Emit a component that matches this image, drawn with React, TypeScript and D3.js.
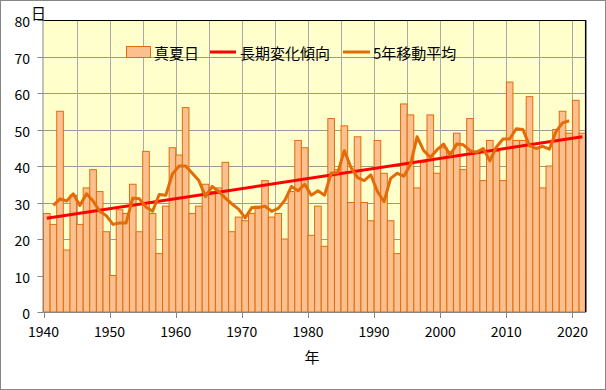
import React, { useEffect } from "react";
import * as d3 from "d3";

// 真夏日の日数 (1940年〜2021年)
const firstYear = 1940;
const manatsubi = [
  27, 24, 55, 17, 32, 24, 34, 39, 33, 22,
  10, 28, 27, 35, 22, 44, 27, 16, 29, 45,
  43, 56, 27, 29, 35, 33, 34, 41, 22, 26,
  25, 27, 29, 36, 26, 27, 20, 33, 47, 45,
  21, 29, 18, 53, 39, 51, 30, 48, 30, 25,
  47, 38, 25, 16, 57, 54, 34, 41, 54, 38,
  45, 44, 49, 39, 53, 44, 36, 47, 44, 36,
  63, 47, 47, 59, 45, 34, 40, 50, 55, 49,
  58, 49,
];

// 5年移動平均 (1941年〜2019年)
const maFirstYear = 1941;
const movingAvg = [
  29.2, 31.0, 30.4, 32.4, 29.2, 32.4, 30.4, 27.6, 26.4,
  24.0, 24.4, 24.4, 31.2, 31.0, 28.8, 27.6, 32.2, 32.0, 37.8,
  40.0, 40.0, 38.0, 36.0, 31.6, 34.4, 33.0, 31.2, 29.6, 28.2,
  25.8, 28.6, 28.6, 29.0, 27.6, 28.4, 30.6, 34.4, 33.2, 35.0,
  32.0, 33.2, 32.0, 38.0, 38.2, 44.2, 39.6, 36.8, 36.0, 37.6,
  33.0, 30.2, 36.6, 38.0, 37.2, 40.4, 48.0, 44.2, 42.4, 44.4,
  46.0, 43.0, 46.0, 45.8, 44.2, 43.8, 44.8, 41.4, 45.2, 47.4,
  47.4, 50.2, 50.0, 45.6, 44.8, 45.4, 44.6, 49.4, 51.8, 52.4,
];

// 長期変化傾向 (始点・終点)
const trendYears = [1940, 2021];
const trendValues = [25.7, 48.0];

const yTicks = [0, 10, 20, 30, 40, 50, 60, 70, 80];
const xLabelYears = [1940, 1950, 1960, 1970, 1980, 1990, 2000, 2010, 2020];
const xGridYears = [1945, 1950, 1955, 1960, 1965, 1970, 1975, 1980, 1985, 1990, 1995, 2000, 2005, 2010, 2015, 2020];

const legendItems = ["真夏日", "長期変化傾向", "5年移動平均"];

const font = "'Noto Sans CJK JP', 'Noto Sans', sans-serif";
const barFill = "#FAC090";
const barStroke = "#E46C0A";
const maColor = "#E36C09";

export default function App() {
  useEffect(() => {
    document.body.style.margin = "0";
  }, []);

  const W = 606;
  const H = 390;
  const x = d3.scaleLinear().domain([1940, 2022]).range([43.5, 585.7]);
  const y = d3.scaleLinear().domain([0, 80]).range([312, 20]);
  const [x0, x1] = x.range();
  const [yb, yt] = y.range();

  const maLine = d3
    .line<number>()
    .x((d, i) => x(maFirstYear + i + 0.5))
    .y((d) => y(d));

  const trendLine = d3
    .line<number>()
    .x((d, i) => x(trendYears[i] + 0.5))
    .y((d) => y(d));

  return (
    <svg width={W} height={H} style={{ display: "block" }} fontFamily={font}>
      <rect x={0.5} y={0.5} width={W - 1} height={H - 1} fill="#fff" stroke="#868686" />
      <rect x={x0} y={yt} width={x1 - x0} height={yb - yt} fill="#FFFFCC" />

      {/* grid */}
      {yTicks.slice(1, -1).map((t) => (
        <line key={"h" + t} x1={x0} x2={x1} y1={Math.round(y(t)) + 0.5} y2={Math.round(y(t)) + 0.5} stroke="#999" />
      ))}
      {xGridYears.map((yr) => (
        <line key={"v" + yr} x1={Math.round(x(yr)) + 0.5} x2={Math.round(x(yr)) + 0.5} y1={yt} y2={yb} stroke="#AAA" />
      ))}

      {/* bars */}
      {manatsubi.map((v, i) => (
        <rect
          key={i}
          x={x(firstYear + i)}
          y={y(v)}
          width={x(firstYear + i + 1) - x(firstYear + i)}
          height={yb - y(v)}
          fill={barFill}
          stroke={barStroke}
          strokeWidth={1}
        />
      ))}

      <path d={trendLine(trendValues) || ""} fill="none" stroke="#FF0000" strokeWidth={3} />
      <path d={maLine(movingAvg) || ""} fill="none" stroke={maColor} strokeWidth={3} strokeLinejoin="round" />

      {/* plot frame */}
      <line x1={x0} x2={x1} y1={yt + 0.5} y2={yt + 0.5} stroke="#000" />
      <line x1={x1} x2={x1} y1={yt} y2={yb} stroke="#000" strokeWidth={1.5} />
      <line x1={x0 - 0.5} x2={x0 - 0.5} y1={yt} y2={yb} stroke="#868686" />
      <line x1={x0} x2={x1} y1={yb + 0.5} y2={yb + 0.5} stroke="#868686" />

      {/* y axis */}
      {yTicks.map((t) => (
        <g key={"y" + t}>
          <line x1={x0 - 6} x2={x0} y1={Math.round(y(t)) + 0.5} y2={Math.round(y(t)) + 0.5} stroke="#868686" />
          <text x={30} y={y(t) + 1} textAnchor="end" dominantBaseline="central" fontSize={14} fill="#000">
            {t}
          </text>
        </g>
      ))}
      <text x={31} y={12} dominantBaseline="central" fontSize={15} fill="#000">日</text>

      {/* x axis */}
      {xLabelYears.map((yr) => (
        <g key={"x" + yr}>
          <line x1={Math.round(x(yr)) + 0.5} x2={Math.round(x(yr)) + 0.5} y1={yb} y2={yb + 6} stroke="#868686" />
          <text x={x(yr)} y={331} textAnchor="middle" dominantBaseline="central" fontSize={14} fill="#000">
            {yr}
          </text>
        </g>
      ))}
      <text x={312} y={356} textAnchor="middle" dominantBaseline="central" fontSize={15} fill="#000">年</text>

      {/* legend */}
      <g fontSize={15} fill="#000">
        <rect x={126.5} y={46.5} width={24} height={11} fill={barFill} stroke={barStroke} />
        <text x={154} y={52} dominantBaseline="central">{legendItems[0]}</text>
        <line x1={210} x2={236} y1={52} y2={52} stroke="#FF0000" strokeWidth={3} />
        <text x={240} y={52} dominantBaseline="central">{legendItems[1]}</text>
        <line x1={343} x2={370} y1={52} y2={52} stroke={maColor} strokeWidth={3} />
        <text x={373} y={52} dominantBaseline="central">{legendItems[2]}</text>
      </g>
    </svg>
  );
}
